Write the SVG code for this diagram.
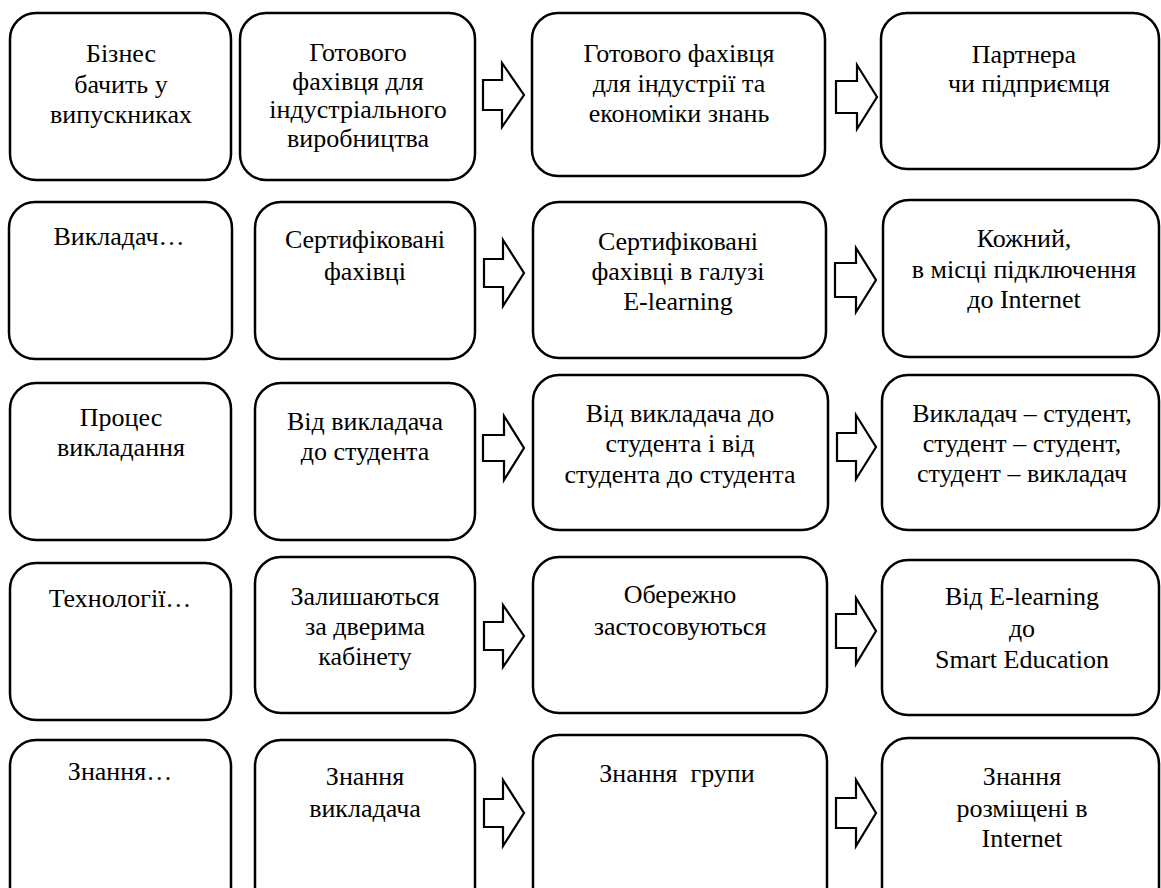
<svg xmlns="http://www.w3.org/2000/svg" width="1161" height="888" viewBox="0 0 1161 888">
<style>
.box{fill:#fff;stroke:#000;stroke-width:2.5}
.arr{fill:#fff;stroke:#000;stroke-width:2.2;stroke-linejoin:miter}
.t text{text-anchor:middle}
</style>
<rect width="1161" height="888" fill="#fff"/>
<g id="connectors">
<path class="arr" d="M483,80 H502 V63 L524,95 L502,127 V110 H483 Z"/>
<path class="arr" d="M836,81 H857 V65 L877,97 L857,129 V113 H836 Z"/>
<path class="arr" d="M484,259 H503 V240 L524,273 L503,306 V287 H484 Z"/>
<path class="arr" d="M835,263 H856 V248 L876,280 L856,312 V297 H835 Z"/>
<path class="arr" d="M483,435 H504 V416 L524,448 L504,480 V461 H483 Z"/>
<path class="arr" d="M837,433 H856 V415 L876,447 L856,479 V461 H837 Z"/>
<path class="arr" d="M484,622 H503 V605 L524,636 L503,667 V650 H484 Z"/>
<path class="arr" d="M836,614 H856 V598 L876,631 L856,664 V648 H836 Z"/>
<path class="arr" d="M484,799 H503 V780 L524,813 L503,846 V827 H484 Z"/>
<path class="arr" d="M836,798 H856 V780 L876,813 L856,846 V828 H836 Z"/>
</g>
<g class="t" font-family="'Liberation Serif', 'Times New Roman', Tinos, 'DejaVu Serif', serif" font-size="26" fill="#000">
<g id="r1b1"><rect class="box" x="10" y="13" width="221" height="167" rx="26"/><text x="121" y="62">Бізнес</text><text x="121" y="93">бачить у</text><text x="121" y="123">випускниках</text></g>
<g id="r1b2"><rect class="box" x="240" y="13" width="235" height="167" rx="26"/><text x="358" y="61">Готового</text><text x="358" y="90">фахівця для</text><text x="358" y="118">індустріального</text><text x="358" y="147">виробництва</text></g>
<g id="r1b3"><rect class="box" x="532" y="13" width="293" height="163" rx="26"/><text x="679" y="62">Готового фахівця</text><text x="679" y="92">для індустрії та</text><text x="679" y="122">економіки знань</text></g>
<g id="r1b4"><rect class="box" x="881" y="13" width="278" height="156" rx="26"/><text x="1024" y="63">Партнера</text><text x="1029" y="92">чи підприємця</text></g>
<g id="r2b1"><rect class="box" x="9" y="202" width="223" height="157" rx="26"/><text x="119" y="245">Викладач…</text></g>
<g id="r2b2"><rect class="box" x="255" y="202" width="220" height="157" rx="26"/><text x="365" y="248">Сертифіковані</text><text x="365" y="280">фахівці</text></g>
<g id="r2b3"><rect class="box" x="533" y="202" width="293" height="156" rx="26"/><text x="678" y="250">Сертифіковані</text><text x="678" y="280">фахівці в галузі</text><text x="678" y="310">E-learning</text></g>
<g id="r2b4"><rect class="box" x="883" y="200" width="276" height="157" rx="26"/><text x="1024" y="247">Кожний,</text><text x="1024" y="278">в місці підключення</text><text x="1024" y="308">до Internet</text></g>
<g id="r3b1"><rect class="box" x="10" y="383" width="221" height="157" rx="26"/><text x="121" y="426">Процес</text><text x="121" y="456">викладання</text></g>
<g id="r3b2"><rect class="box" x="255" y="383" width="220" height="157" rx="26"/><text x="365" y="430">Від викладача</text><text x="365" y="460">до студента</text></g>
<g id="r3b3"><rect class="box" x="533" y="375" width="295" height="155" rx="26"/><text x="680" y="422">Від викладача до</text><text x="680" y="452">студента і від</text><text x="680" y="483">студента до студента</text></g>
<g id="r3b4"><rect class="box" x="882" y="375" width="277" height="155" rx="26"/><text x="1022" y="422">Викладач – студент,</text><text x="1022" y="452">студент – студент,</text><text x="1022" y="482">студент – викладач</text></g>
<g id="r4b1"><rect class="box" x="10" y="563" width="221" height="157" rx="26"/><text x="120" y="607">Технології…</text></g>
<g id="r4b2"><rect class="box" x="255" y="557" width="220" height="156" rx="26"/><text x="365" y="605">Залишаються</text><text x="365" y="635">за дверима</text><text x="365" y="665">кабінету</text></g>
<g id="r4b3"><rect class="box" x="533" y="557" width="294" height="156" rx="26"/><text x="680" y="603">Обережно</text><text x="680" y="635">застосовуються</text></g>
<g id="r4b4"><rect class="box" x="882" y="560" width="277" height="155" rx="26"/><text x="1022" y="605">Від E-learning</text><text x="1022" y="637">до</text><text x="1022" y="668">Smart Education</text></g>
<g id="r5b1"><rect class="box" x="10" y="740" width="221" height="175" rx="26"/><text x="120" y="780">Знання…</text></g>
<g id="r5b2"><rect class="box" x="255" y="740" width="220" height="175" rx="26"/><text x="365" y="785">Знання</text><text x="365" y="817">викладача</text></g>
<g id="r5b3"><rect class="box" x="533" y="735" width="294" height="180" rx="26"/><text x="677" y="782" xml:space="preserve">Знання  групи</text></g>
<g id="r5b4"><rect class="box" x="882" y="738" width="277" height="177" rx="26"/><text x="1022" y="785">Знання</text><text x="1022" y="817">розміщені в</text><text x="1022" y="847">Internet</text></g>
</g>
</svg>
